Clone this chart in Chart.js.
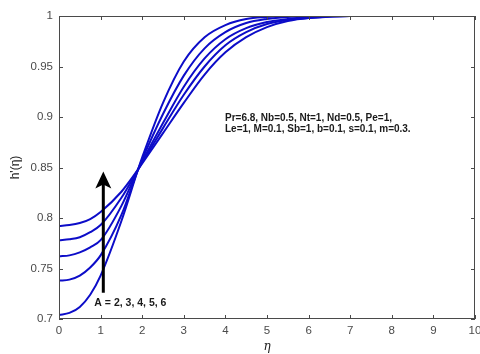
<!DOCTYPE html>
<html lang="en">
<head>
    <meta charset="UTF-8">
    <title>h'(eta) vs eta</title>
    <script src="https://cdn.jsdelivr.net/npm/chart.js"></script>
    <style>
        body {
            margin: 0;
            background: #ffffff;
        }
        canvas {
            display: block;
        }
    </style>
</head>
<body>
    <canvas id="profileChart" width="480" height="354"></canvas>

    <script>
        // values
        const eta = [0, 0.25, 0.5, 0.75, 1, 1.5, 1.9, 2, 2.5, 3, 3.5, 4, 4.5, 5, 5.5, 6, 7, 8, 10];
        const hA2 = [0.704, 0.706, 0.712, 0.724, 0.743, 0.797, 0.848, 0.860, 0.914, 0.955, 0.979, 0.991, 0.997, 0.999, 1.000, 1.000, 1.000, 1.000, 1.000];
        const hA3 = [0.738, 0.739, 0.743, 0.751, 0.763, 0.803, 0.848, 0.858, 0.903, 0.941, 0.968, 0.984, 0.993, 0.997, 0.999, 1.000, 1.000, 1.000, 1.000];
        const hA4 = [0.762, 0.763, 0.766, 0.771, 0.778, 0.812, 0.848, 0.856, 0.894, 0.930, 0.958, 0.977, 0.988, 0.994, 0.997, 0.999, 1.000, 1.000, 1.000];
        const hA5 = [0.778, 0.779, 0.781, 0.786, 0.793, 0.820, 0.848, 0.855, 0.889, 0.922, 0.950, 0.971, 0.984, 0.992, 0.996, 0.998, 1.000, 1.000, 1.000];
        const hA6 = [0.792, 0.793, 0.795, 0.799, 0.806, 0.826, 0.848, 0.854, 0.884, 0.914, 0.942, 0.964, 0.979, 0.989, 0.995, 0.998, 1.000, 1.000, 1.000];
        const seriesNames = ['A = 2', 'A = 3', 'A = 4', 'A = 5', 'A = 6'];
        const xTicks = [0, 1, 2, 3, 4, 5, 6, 7, 8, 9, 10];
        const yTicks = [0.7, 0.75, 0.8, 0.85, 0.9, 0.95, 1];

        const paramLines = [
            'Pr=6.8, Nb=0.5, Nt=1, Nd=0.5, Pe=1,',
            'Le=1, M=0.1, Sb=1, b=0.1, s=0.1, m=0.3.'
        ];
        const arrowLabel = 'A = 2, 3, 4, 5, 6';

        const lineColor = '#0c0cc8';
        const axisColor = '#4a4a4a';
        const fontName = "'Liberation Sans', Arial, sans-serif";

        const datasets = [hA2, hA3, hA4, hA5, hA6].map((vals, i) => ({
            label: seriesNames[i],
            data: vals.map((v, k) => ({ x: eta[k], y: v })),
            borderColor: lineColor,
            borderWidth: 2,
            pointRadius: 0,
            fill: false,
            cubicInterpolationMode: 'monotone'
        }));

        // box, inward ticks, arrow and text
        const extras = {
            id: 'extras',
            afterDraw(chart) {
                const ctx = chart.ctx;
                const area = chart.chartArea;
                const xs = chart.scales.x;
                const ys = chart.scales.y;
                const tl = 4;

                ctx.save();
                ctx.strokeStyle = axisColor;
                ctx.lineWidth = 1;
                ctx.strokeRect(area.left + 0.5, area.top + 0.5, area.right - area.left - 1, area.bottom - area.top - 1);

                ctx.beginPath();
                xTicks.forEach(t => {
                    const px = Math.round(xs.getPixelForValue(t)) + 0.5;
                    ctx.moveTo(px, area.bottom);
                    ctx.lineTo(px, area.bottom - tl);
                    ctx.moveTo(px, area.top);
                    ctx.lineTo(px, area.top + tl);
                });
                yTicks.forEach(t => {
                    const py = Math.round(ys.getPixelForValue(t)) + 0.5;
                    ctx.moveTo(area.left, py);
                    ctx.lineTo(area.left + tl, py);
                    ctx.moveTo(area.right, py);
                    ctx.lineTo(area.right - tl, py);
                });
                ctx.stroke();

                // arrow
                const ax = xs.getPixelForValue(1.065);
                const ay0 = ys.getPixelForValue(0.726);
                const ay1 = ys.getPixelForValue(0.846);
                ctx.strokeStyle = '#000000';
                ctx.fillStyle = '#000000';
                ctx.lineWidth = 3;
                ctx.beginPath();
                ctx.moveTo(ax, ay0);
                ctx.lineTo(ax, ay1 + 12);
                ctx.stroke();
                ctx.beginPath();
                ctx.moveTo(ax, ay1);
                ctx.lineTo(ax - 8, ay1 + 17);
                ctx.lineTo(ax, ay1 + 13);
                ctx.lineTo(ax + 8, ay1 + 17);
                ctx.closePath();
                ctx.fill();

                // labels
                ctx.fillStyle = '#1a1a1a';
                ctx.textBaseline = 'middle';
                ctx.textAlign = 'left';
                ctx.font = 'bold 10.5px ' + fontName;
                ctx.fillText(arrowLabel, xs.getPixelForValue(0.85), ys.getPixelForValue(0.716));

                ctx.font = 'bold 10px ' + fontName;
                paramLines.forEach((line, i) => {
                    ctx.fillText(line, xs.getPixelForValue(3.99), ys.getPixelForValue(0.899 - i * 0.0115));
                });
                ctx.restore();
            }
        };

        const ctx = document.getElementById('profileChart').getContext('2d');
        new Chart(ctx, {
            type: 'line',
            data: { datasets },
            options: {
                responsive: false,
                animation: false,
                layout: {
                    padding: { left: 0, right: 5, top: 16, bottom: 0 }
                },
                plugins: {
                    legend: { display: false },
                    tooltip: { enabled: false }
                },
                scales: {
                    x: {
                        type: 'linear',
                        min: 0,
                        max: 10,
                        afterBuildTicks: scale => {
                            scale.ticks = xTicks.map(v => ({ value: v }));
                        },
                        afterFit: scale => {
                            scale.height = 35;
                            scale.paddingLeft = 0;
                            scale.paddingRight = 0;
                        },
                        grid: { display: false, drawTicks: false },
                        border: { display: false },
                        ticks: {
                            color: axisColor,
                            padding: 5,
                            maxRotation: 0,
                            font: { family: fontName, size: 11.5 }
                        },
                        title: {
                            display: true,
                            text: 'η',
                            color: '#1a1a1a',
                            padding: 0,
                            font: { family: "'DejaVu Serif', serif", size: 12, style: 'italic' }
                        }
                    },
                    y: {
                        type: 'linear',
                        min: 0.7,
                        max: 1,
                        afterBuildTicks: scale => {
                            scale.ticks = yTicks.map(v => ({ value: v }));
                        },
                        afterFit: scale => {
                            scale.width = 59;
                        },
                        grid: { display: false, drawTicks: false },
                        border: { display: false },
                        ticks: {
                            color: axisColor,
                            padding: 6,
                            font: { family: fontName, size: 11.5 },
                            callback: v => String(parseFloat(v.toFixed(2)))
                        },
                        title: {
                            display: true,
                            text: "h'(η)",
                            color: '#1a1a1a',
                            padding: { top: 8, bottom: 0 },
                            font: { family: fontName, size: 12 }
                        }
                    }
                }
            },
            plugins: [extras]
        });
    </script>
</body>
</html>
